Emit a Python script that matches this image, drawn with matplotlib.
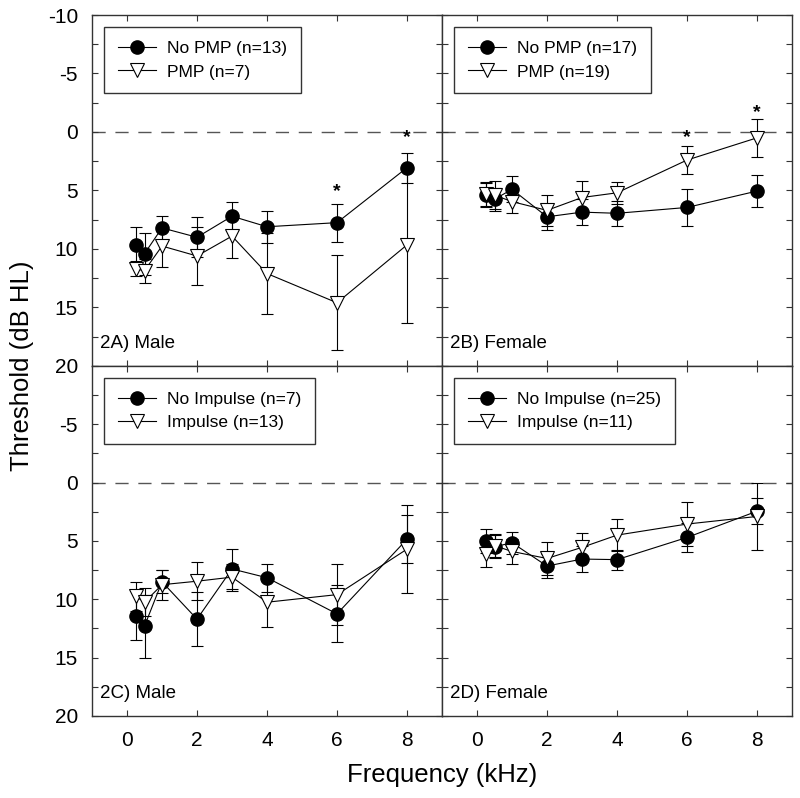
import numpy as np
import matplotlib
matplotlib.use('Agg')
import matplotlib.pyplot as plt
from matplotlib.ticker import MultipleLocator, FuncFormatter

plt.rcParams['font.family'] = ['Liberation Sans', 'DejaVu Sans']
plt.rcParams['axes.unicode_minus'] = False

freqs = [0.25, 0.5, 1, 2, 3, 4, 6, 8]

# 2A male, PMP
a_nopmp = [9.7, 10.4, 8.2, 9.0, 7.2, 8.1, 7.75, 3.05]
a_nopmp_err = [1.6, 1.8, 1.0, 1.7, 1.2, 1.35, 1.62, 1.28]
a_pmp = [11.7, 11.85, 9.75, 10.6, 8.9, 12.1, 14.6, 9.65]
a_pmp_err = [0.65, 1.03, 1.75, 2.5, 1.85, 3.5, 4.05, 6.65]

# 2B female, PMP
b_nopmp = [5.4, 5.75, 4.9, 7.25, 6.85, 6.95, 6.45, 5.05]
b_nopmp_err = [1.0, 1.0, 1.1, 1.1, 1.1, 1.05, 1.55, 1.35]
b_pmp = [5.3, 5.4, 5.95, 6.7, 5.6, 5.2, 2.4, 0.5]
b_pmp_err = [1.0, 1.2, 0.95, 1.3, 1.4, 0.95, 1.2, 1.6]

# 2C male, impulse
c_noimp = [11.4, 12.3, 8.5, 11.7, 7.4, 8.15, 11.25, 4.85]
c_noimp_err = [2.1, 2.7, 1.0, 2.3, 1.7, 1.2, 2.45, 2.05]
c_imp = [9.75, 10.25, 8.75, 8.45, 8.1, 10.25, 9.6, 5.7]
c_imp_err = [1.25, 1.2, 1.3, 1.65, 1.15, 2.15, 2.6, 3.75]

# 2D female, impulse
d_noimp = [5.0, 5.5, 5.15, 7.15, 6.55, 6.6, 4.7, 2.45]
d_noimp_err = [1.0, 1.0, 0.95, 1.05, 1.1, 0.85, 1.25, 1.1]
d_imp = [6.15, 5.4, 5.9, 6.5, 5.55, 4.5, 3.55, 2.9]
d_imp_err = [1.05, 1.0, 1.05, 1.45, 1.2, 1.35, 1.85, 2.85]

# significance stars (freq, threshold)
a_stars = [(6, 5.1), (8, 0.5)]
b_stars = [(6, 0.5), (8, -1.7)]

panels = [
    dict(pos=[0.115, 0.5414, 0.4375, 0.4398], s1=a_nopmp, e1=a_nopmp_err, s2=a_pmp, e2=a_pmp_err,
         l1='No PMP (n=13)', l2='PMP (n=7)', tag='2A) Male', stars=a_stars, left=True, bottom=False),
    dict(pos=[0.5525, 0.5414, 0.4375, 0.4398], s1=b_nopmp, e1=b_nopmp_err, s2=b_pmp, e2=b_pmp_err,
         l1='No PMP (n=17)', l2='PMP (n=19)', tag='2B) Female', stars=b_stars, left=False, bottom=False),
    dict(pos=[0.115, 0.1028, 0.4375, 0.4386], s1=c_noimp, e1=c_noimp_err, s2=c_imp, e2=c_imp_err,
         l1='No Impulse (n=7)', l2='Impulse (n=13)', tag='2C) Male', stars=[], left=True, bottom=True),
    dict(pos=[0.5525, 0.1028, 0.4375, 0.4386], s1=d_noimp, e1=d_noimp_err, s2=d_imp, e2=d_imp_err,
         l1='No Impulse (n=25)', l2='Impulse (n=11)', tag='2D) Female', stars=[], left=False, bottom=True),
]

edge = '#333333'
fig = plt.figure(figsize=(8, 7.98), dpi=100)

def ylab_bottom(v, pos):
    # lower panels share the -10/20 boundary with the upper ones
    return '' if v < -9 else '%d' % v

for p in panels:
    ax = fig.add_axes(p['pos'])
    ax.axhline(0, color='#555555', lw=1, dashes=(9.5, 7), zorder=1)
    e1 = ax.errorbar(freqs, p['s1'], yerr=p['e1'], fmt='-o', color='black', mfc='black', mec='black',
                     ms=9.5, lw=0.8, elinewidth=0.8, capsize=4, capthick=0.8, zorder=3)
    e2 = ax.errorbar(freqs, p['s2'], yerr=p['e2'], fmt='-v', color='black', mfc='white', mec='black',
                     mew=0.8, ms=10, lw=0.8, elinewidth=0.8, capsize=4, capthick=0.8, zorder=4)
    for sx, sy in p['stars']:
        ax.text(sx, sy, '*', ha='center', va='center', fontsize=14, fontweight='bold')

    ax.set_xlim(-1, 9)
    ax.set_ylim(20, -10)
    ax.xaxis.set_major_locator(MultipleLocator(2))
    ax.yaxis.set_major_locator(MultipleLocator(5))
    ax.yaxis.set_minor_locator(MultipleLocator(2.5))
    if p['bottom']:
        ax.yaxis.set_major_formatter(FuncFormatter(ylab_bottom))
    ax.tick_params(which='both', direction='in', top=True, right=True, length=4.5, width=0.8,
                   color=edge, labelsize=15, labelleft=p['left'], labelbottom=p['bottom'])
    ax.tick_params(axis='y', pad=10)
    ax.tick_params(axis='x', pad=10.5)
    for sp in ax.spines.values():
        sp.set_color(edge)
        sp.set_linewidth(1)

    ax.text(0.023, 0.052, p['tag'], transform=ax.transAxes, fontsize=13.5, va='baseline')

    leg = ax.legend([e1[0], e2[0]], [p['l1'], p['l2']], loc='upper left', fontsize=12.5,
                    fancybox=False, framealpha=1, edgecolor=edge,
                    borderaxespad=0.7, handlelength=2.2, handletextpad=0.6, borderpad=0.8,
                    labelspacing=0.47)
    leg.get_frame().set_linewidth(1)

fig.text(0.0275, 0.5414, 'Threshold (dB HL)', rotation=90, ha='center', va='center', fontsize=18.5)
fig.text(0.5525, 0.029, 'Frequency (kHz)', ha='center', va='center', fontsize=18.5)

fig.savefig('out.png', dpi=100)
